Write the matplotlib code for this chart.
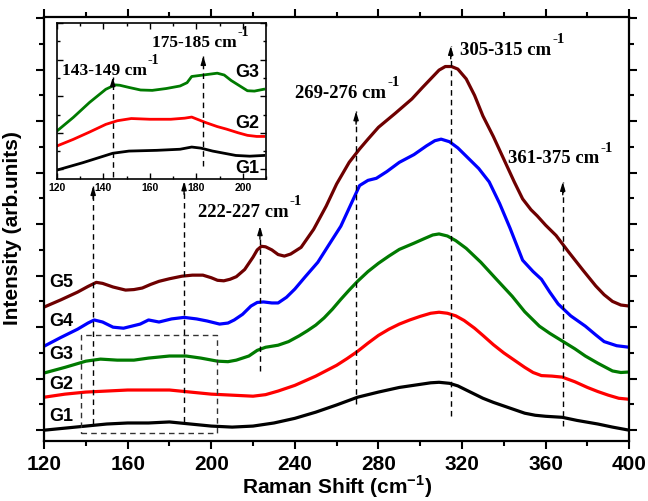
import matplotlib
matplotlib.use("Agg")
import matplotlib.pyplot as plt
from matplotlib.patches import Rectangle
from matplotlib.ticker import MultipleLocator

plt.rcParams["font.family"] = ["Liberation Sans", "DejaVu Sans"]
plt.rcParams["font.weight"] = "bold"
plt.rcParams["mathtext.fontset"] = "custom"
plt.rcParams["mathtext.rm"] = "Liberation Sans:bold"
plt.rcParams["mathtext.bf"] = "Liberation Sans:bold"

# --- spectres (décalés verticalement, unités arbitraires) ---
g1_x = [120, 130, 140, 150, 160, 170, 180, 190, 200, 210, 220, 230, 240, 250, 260,
        270, 280, 290, 300, 305, 309, 314, 318, 322, 326, 330, 335, 340, 345, 350,
        355, 360, 368, 375, 385, 392, 400]
g1_y = [0.00, 0.04, 0.08, 0.12, 0.14, 0.14, 0.16, 0.12, 0.08, 0.06, 0.08, 0.14, 0.23,
        0.35, 0.49, 0.64, 0.74, 0.83, 0.89, 0.92, 0.93, 0.91, 0.86, 0.78, 0.70, 0.62,
        0.54, 0.47, 0.40, 0.33, 0.29, 0.27, 0.25, 0.19, 0.12, 0.06, 0.00]

g2_x = [120, 130, 140, 150, 160, 170, 180, 190, 200, 210, 220, 226, 232, 240, 250,
        260, 265, 270, 275, 280, 285, 290, 295, 300, 305, 309, 313, 317, 321, 326,
        330, 335, 340, 345, 350, 354, 358, 363, 368, 374, 380, 385, 390, 395, 400]
g2_y = [0.64, 0.70, 0.74, 0.76, 0.78, 0.78, 0.78, 0.74, 0.70, 0.68, 0.66, 0.69, 0.76,
        0.87, 1.05, 1.26, 1.39, 1.53, 1.69, 1.84, 1.96, 2.06, 2.14, 2.21, 2.27, 2.29,
        2.27, 2.22, 2.13, 1.98, 1.84, 1.66, 1.50, 1.36, 1.22, 1.12, 1.06, 1.05, 1.03,
        0.94, 0.83, 0.75, 0.68, 0.62, 0.60]

g3_x = [120, 130, 140, 147, 155, 163, 170, 180, 188, 195, 203, 208, 212, 218, 222,
        226, 232, 237, 242, 246, 250, 254, 258, 262, 266, 270, 275, 280, 285, 290,
        297, 302, 306, 309, 313, 317, 322, 329, 336, 344, 350, 357, 362, 368, 374,
        379, 385, 392, 396, 400]
g3_y = [1.11, 1.22, 1.34, 1.38, 1.36, 1.36, 1.40, 1.44, 1.44, 1.40, 1.34, 1.33, 1.36,
        1.44, 1.55, 1.61, 1.65, 1.72, 1.83, 1.93, 2.04, 2.18, 2.35, 2.54, 2.72, 2.89,
        3.08, 3.24, 3.38, 3.51, 3.63, 3.72, 3.79, 3.81, 3.77, 3.68, 3.53, 3.26, 2.95,
        2.60, 2.30, 2.02, 1.88, 1.73, 1.58, 1.44, 1.30, 1.15, 1.12, 1.13]

g4_x = [120, 128, 136, 141, 144, 148, 153, 158, 162, 166, 170, 175, 181, 187, 193,
        198, 204, 208, 211, 215, 219, 222, 225, 229, 232, 236, 240, 245, 251, 256,
        262, 267, 271, 275, 279, 284, 290, 297, 303, 307, 310, 314, 318, 322, 328,
        333, 338, 343, 349, 354, 358, 362, 366, 372, 379, 384, 388, 394, 400]
g4_y = [1.63, 1.80, 1.96, 2.08, 2.14, 2.10, 2.00, 1.98, 2.02, 2.06, 2.14, 2.10, 2.16,
        2.19, 2.16, 2.12, 2.06, 2.08, 2.14, 2.25, 2.41, 2.48, 2.49, 2.47, 2.47, 2.58,
        2.74, 2.98, 3.26, 3.58, 3.96, 4.40, 4.75, 4.85, 4.89, 5.02, 5.20, 5.35, 5.52,
        5.62, 5.65, 5.60, 5.48, 5.32, 5.08, 4.82, 4.40, 3.92, 3.30, 3.08, 2.93, 2.68,
        2.45, 2.22, 2.02, 1.85, 1.72, 1.64, 1.61]

g5_x = [120, 128, 136, 141, 145, 148, 153, 159, 163, 167, 171, 175, 180, 186, 191,
        196, 200, 203, 206, 209, 212, 216, 220, 222, 224, 226, 229, 232, 235, 238,
        243, 249, 255, 260, 266, 271, 275, 280, 288, 296, 301, 305, 309, 312, 315,
        318, 322, 326, 330, 335, 340, 345, 349, 353, 356, 360, 365, 371, 378, 384,
        388, 392, 396, 400]
g5_y = [2.39, 2.53, 2.68, 2.79, 2.87, 2.85, 2.78, 2.72, 2.73, 2.76, 2.83, 2.89, 2.94,
        2.99, 3.01, 3.01, 2.96, 2.91, 2.90, 2.93, 2.98, 3.12, 3.36, 3.50, 3.57, 3.56,
        3.50, 3.41, 3.38, 3.42, 3.55, 3.90, 4.35, 4.78, 5.20, 5.46, 5.65, 5.88, 6.15,
        6.43, 6.65, 6.82, 6.99, 7.06, 7.06, 7.01, 6.82, 6.50, 6.10, 5.70, 5.26, 4.82,
        4.49, 4.28, 4.16, 3.98, 3.78, 3.46, 3.10, 2.80, 2.63, 2.50, 2.43, 2.41]

# --- agrandissement 120-210 cm-1 (encart) ---
i1_x = [120, 131, 138, 144, 151, 163, 173, 178, 182, 187, 192, 197, 203, 209]
i1_y = [-0.02, 0.18, 0.32, 0.44, 0.50, 0.52, 0.55, 0.61, 0.58, 0.50, 0.44, 0.38, 0.36,
        0.38]
i2_x = [120, 127, 134, 141, 146, 152, 160, 169, 175, 178, 184, 189, 193, 198, 202,
        206, 209]
i2_y = [0.64, 0.82, 1.02, 1.23, 1.33, 1.39, 1.37, 1.37, 1.40, 1.43, 1.28, 1.17, 1.10,
        1.00, 0.93, 0.90, 0.90]
i3_x = [120, 127, 134, 141, 145, 147, 151, 156, 161, 167, 173, 176, 178, 183, 189,
        192, 195, 199, 202, 205, 209]
i3_y = [1.05, 1.42, 1.83, 2.19, 2.31, 2.30, 2.24, 2.17, 2.16, 2.21, 2.28, 2.37, 2.54,
        2.58, 2.63, 2.58, 2.43, 2.27, 2.15, 2.14, 2.19]

noms = ["G1", "G2", "G3", "G4", "G5"]
couleurs = ["black", "#ff0000", "#007a00", "#0000ff", "#6e0000"]
nom_y = [0.29, 0.91, 1.48, 2.12, 2.89]

# bandes Raman : position, bas et haut de la flèche, libellé, position du libellé
bandes_x = [143.5, 187.0, 223.3, 269.3, 314.6, 368.2]
bandes_bas = [0.12, 0.16, 1.15, 0.50, 0.27, 0.08]
bandes_haut = [4.74, 4.83, 3.96, 6.19, 7.46, 4.82]
libelles = ["222-227", "269-276", "305-315", "361-375"]
libelles_xy = [(193.7, 4.16), (240.1, 6.47), (319.0, 7.30), (342.0, 5.20)]

encart_bandes_x = [144.0, 183.0]
encart_bas = [-0.22, 0.08]
encart_haut = [2.52, 3.10]
encart_libelles = ["143-149", "175-185"]
encart_libelles_xy = [(122.0, 2.60), (160.8, 3.37)]
encart_nom_y = [0.05, 1.29, 2.68]

SERIF = ["Liberation Serif", "DejaVu Serif"]


def fleche(ax, x, y0, y1, tete):
    ax.plot([x, x], [y0, y1], color="black", lw=1.0, ls=(0, (4, 3)), zorder=3)
    ax.annotate("", xy=(x, y1), xytext=(x, y1 - tete),
                arrowprops=dict(arrowstyle="-|>,head_length=0.5,head_width=0.15",
                                color="black", lw=1.0, shrinkA=0, shrinkB=0), zorder=3)


def libelle_cm(ax, x, y, texte, taille):
    t = ax.text(x, y, f"{texte} cm", family=SERIF, fontsize=taille,
                fontweight="bold", va="baseline", ha="left")
    ax.annotate("-1", xy=(1.0, 0.75), xycoords=t, xytext=(0.8, 0),
                textcoords="offset points", family=SERIF, fontsize=taille * 0.8,
                fontweight="bold", va="bottom", ha="left")


fig = plt.figure(figsize=(6.48, 5.02), dpi=100)
ax = fig.add_axes([0.068, 0.1195, 0.903, 0.8445])

for gx, gy, c in zip([g1_x, g2_x, g3_x, g4_x, g5_x],
                     [g1_y, g2_y, g3_y, g4_y, g5_y], couleurs):
    ax.plot(gx, gy, color=c, lw=2.3, solid_joinstyle="round", zorder=2)

for nom, y in zip(noms, nom_y):
    ax.text(122.6, y, nom, fontsize=13, fontweight="bold", va="center", ha="left")

for x, y0, y1 in zip(bandes_x, bandes_bas, bandes_haut):
    fleche(ax, x, y0, y1, 0.25)
for lib, (x, y) in zip(libelles, libelles_xy):
    libelle_cm(ax, x, y, lib, 13.5)

ax.add_patch(Rectangle((137.5, -0.06), 202.6 - 137.5, 1.90, fill=False,
                       ls=(0, (4, 3)), lw=1.0, ec="#333333", zorder=3))

ax.set_xlim(120, 400)
ax.set_ylim(-0.21, 8.02)
ax.xaxis.set_major_locator(MultipleLocator(40))
ax.xaxis.set_minor_locator(MultipleLocator(20))
ax.yaxis.set_major_locator(MultipleLocator(1))
ax.yaxis.set_minor_locator(MultipleLocator(0.5))
ax.tick_params(which="both", direction="out", top=True, right=True, width=1.5)
ax.tick_params(which="major", length=6)
ax.tick_params(which="minor", length=3.5)
ax.tick_params(axis="x", labelsize=15, pad=3)
ax.tick_params(axis="y", labelleft=False)
for lab in ax.get_xticklabels():
    lab.set_fontweight("bold")
for s in ax.spines.values():
    s.set_linewidth(1.6)
ax.set_xlabel("Raman Shift (cm$^{-1}$)", fontsize=15, fontweight="bold", labelpad=0)
ax.set_ylabel("Intensity (arb.units)", fontsize=15, fontweight="bold")
ax.yaxis.set_label_coords(-0.038, 0.505)

# encart
axi = fig.add_axes([0.088, 0.641, 0.3225, 0.311])
for gx, gy, c in zip([i1_x, i2_x, i3_x], [i1_y, i2_y, i3_y], couleurs[:3]):
    axi.plot(gx, gy, color=c, lw=2.0, solid_joinstyle="round", zorder=2)
for x, y0, y1 in zip(encart_bandes_x, encart_bas, encart_haut):
    fleche(axi, x, y0, y1, 0.2)
for lib, (x, y) in zip(encart_libelles, encart_libelles_xy):
    libelle_cm(axi, x, y, lib, 12.5)
for nom, y in zip(noms[:3], encart_nom_y):
    axi.text(196.8, y, nom, fontsize=13, fontweight="bold", va="center", ha="left")
axi.set_xlim(120, 210)
axi.set_ylim(-0.27, 4.0)
axi.xaxis.set_major_locator(MultipleLocator(20))
axi.xaxis.set_minor_locator(MultipleLocator(10))
axi.yaxis.set_major_locator(MultipleLocator(1))
axi.yaxis.set_minor_locator(MultipleLocator(0.5))
axi.tick_params(which="both", direction="in", top=True, right=True, width=1.0)
axi.tick_params(which="major", length=4)
axi.tick_params(which="minor", length=2)
axi.tick_params(axis="x", labelsize=7.5, pad=2)
axi.tick_params(axis="y", labelleft=False)
for lab in axi.get_xticklabels():
    lab.set_fontweight("bold")
for s in axi.spines.values():
    s.set_linewidth(1.2)

fig.savefig("out.png", dpi=100)
